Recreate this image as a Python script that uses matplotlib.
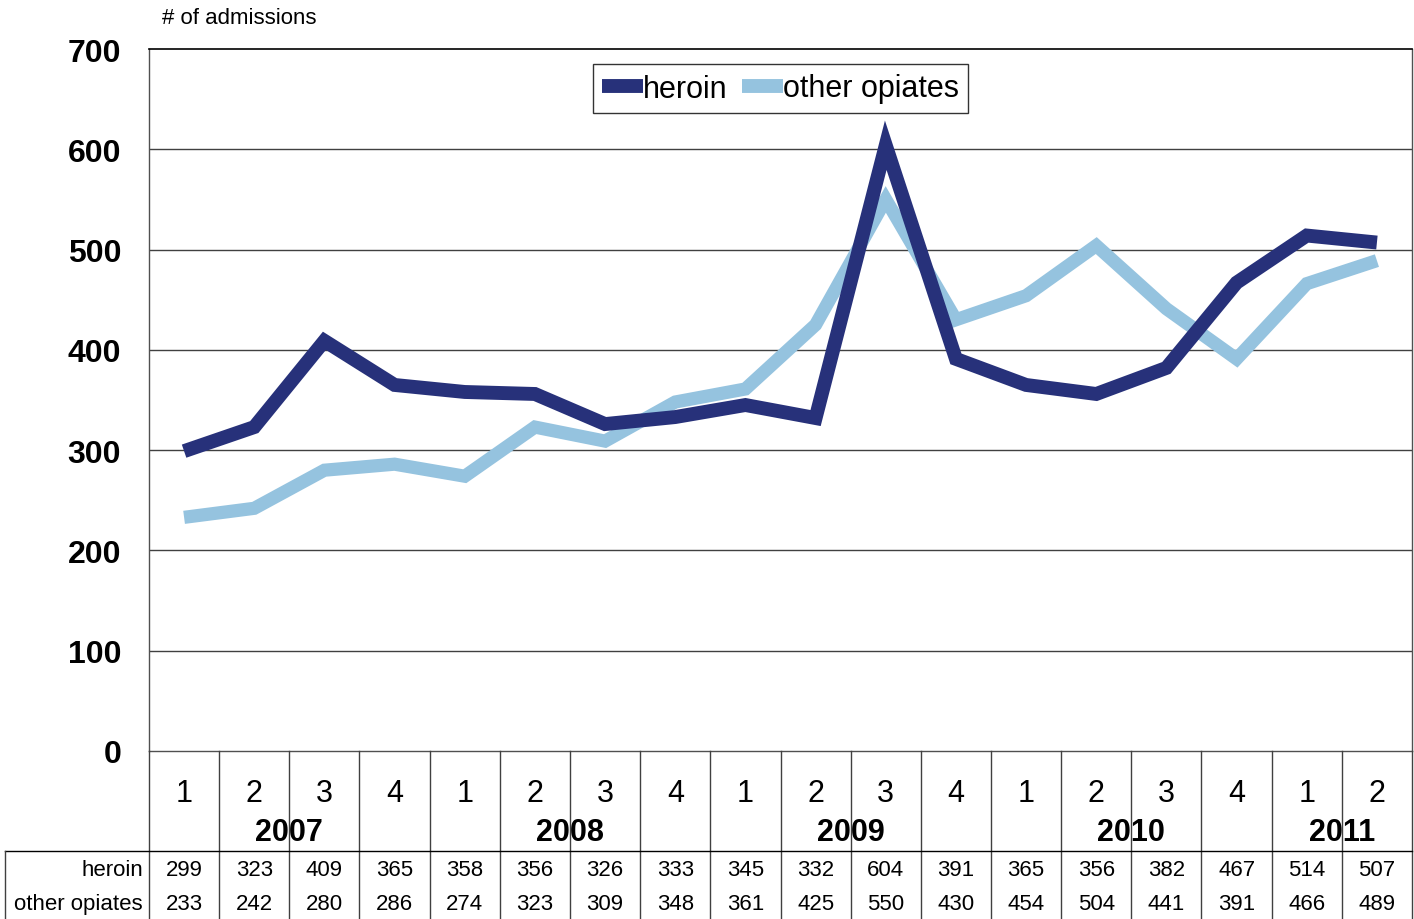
import matplotlib
matplotlib.use("Agg")
import matplotlib.pyplot as plt
from matplotlib.transforms import blended_transform_factory
from matplotlib.lines import Line2D

plt.rcParams['font.family'] = ['Liberation Sans', 'DejaVu Sans']

quarters = ["1", "2", "3", "4", "1", "2", "3", "4", "1", "2", "3", "4", "1", "2", "3", "4", "1", "2"]
years = ["2007", "2008", "2009", "2010", "2011"]
year_quarter_counts = [4, 4, 4, 4, 2]
heroin = [299, 323, 409, 365, 358, 356, 326, 333, 345, 332, 604, 391, 365, 356, 382, 467, 514, 507]
other_opiates = [233, 242, 280, 286, 274, 323, 309, 348, 361, 425, 550, 430, 454, 504, 441, 391, 466, 489]
series_names = ["heroin", "other opiates"]
yticks = [0, 100, 200, 300, 400, 500, 600, 700]

W, H = 1414, 920
fig = plt.figure(figsize=(W / 100, H / 100), dpi=100)
L, R, T, B = 149, 1412, 50, 752
ax = fig.add_axes([L / W, (H - B) / H, (R - L) / W, (B - T) / H])

n = len(quarters)
x = list(range(n))
c_her = "#27317A"
c_oth = "#95C3DF"

ax.plot(x, other_opiates, color=c_oth, lw=9.5, solid_joinstyle="miter", solid_capstyle="butt", zorder=3)
ax.plot(x, heroin, color=c_her, lw=10, solid_joinstyle="miter", solid_capstyle="butt", zorder=4)

ax.set_xlim(-0.5, n - 0.5)
ax.set_ylim(0, 700)
ax.set_yticks(yticks)
ax.set_yticklabels([str(v) for v in yticks], fontsize=23, fontweight="bold")
ax.tick_params(axis="y", length=0, pad=20)
ax.set_xticks([])
for v in yticks[1:-1]:
    ax.axhline(v, color="#404040", lw=1.0, zorder=1)
for s in ["left", "right", "bottom"]:
    ax.spines[s].set_color("#505050")
    ax.spines[s].set_linewidth(1.0)
ax.spines["top"].set_color("black")
ax.spines["top"].set_linewidth(1.2)

fig.text(162 / W, 1 - 18 / H, "# of admissions", fontsize=16, ha="left", va="center")

handles = [Line2D([0], [0], color=c_her, lw=10, solid_capstyle="butt"),
           Line2D([0], [0], color=c_oth, lw=10, solid_capstyle="butt")]
leg = ax.legend(handles, series_names, loc="center", bbox_to_anchor=((780.5 - L) / (R - L), (B - 89.5) / (B - T)),
                ncol=2, fontsize=22, frameon=True, fancybox=False, edgecolor="black",
                handlelength=1.35, handletextpad=0.0, columnspacing=0.45, borderpad=0.3,
                borderaxespad=0)
leg.get_frame().set_linewidth(1.0)

# header/table region below axes
tr = blended_transform_factory(ax.transData, fig.transFigure)
def fy(py):
    return 1 - py / H

lc = "#404040"
for i in range(n + 1):
    xb = i - 0.5
    fig.add_artist(Line2D([xb, xb], [fy(B), fy(H)], transform=tr, color=lc, lw=1.0))
fig.add_artist(Line2D([5 / W, R / W], [fy(852), fy(852)], transform=fig.transFigure, color="black", lw=1.0))
fig.add_artist(Line2D([5 / W, 5 / W], [fy(852), fy(H)], transform=fig.transFigure, color=lc, lw=1.0))

for i, q in enumerate(quarters):
    fig.text(i, fy(794), q, transform=tr, ha="center", va="center", fontsize=22)
start = 0
for yr, cnt in zip(years, year_quarter_counts):
    fig.text(start + (cnt - 1) / 2, fy(833), yr, transform=tr, ha="center", va="center",
             fontsize=22, fontweight="bold")
    start += cnt

row_y = [871, 905]
for name, vals, py in zip(series_names, [heroin, other_opiates], row_y):
    fig.text(143 / W, fy(py), name, ha="right", va="center", fontsize=16)
    for i, v in enumerate(vals):
        fig.text(i, fy(py), str(v), transform=tr, ha="center", va="center", fontsize=16)

fig.savefig("out.png", dpi=100)
